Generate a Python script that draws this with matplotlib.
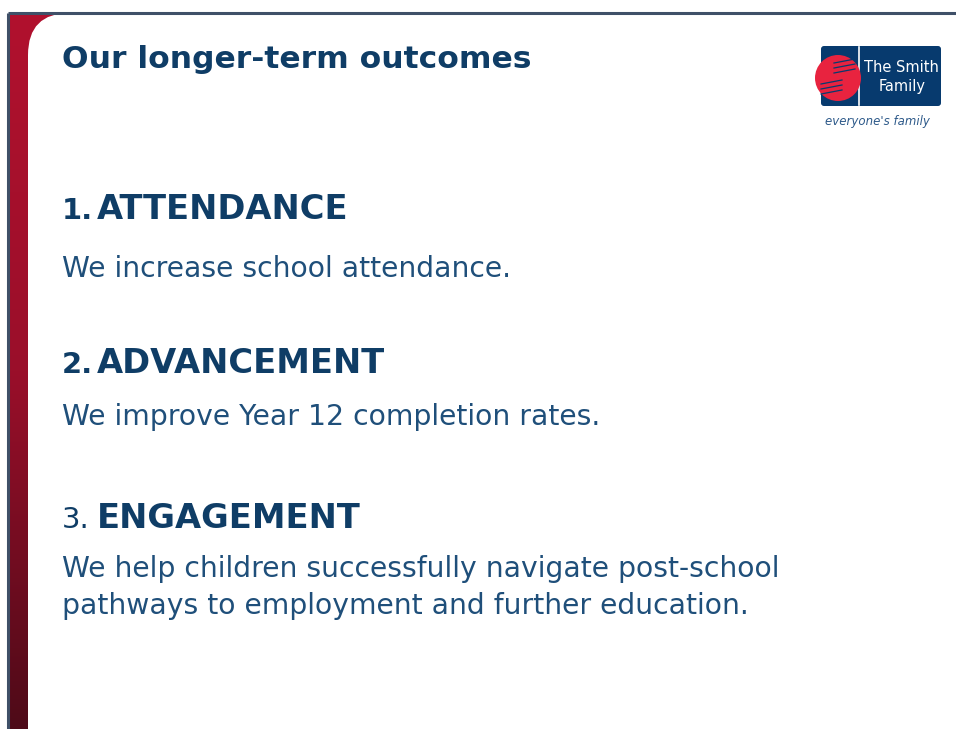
"""Slide: Our longer-term outcomes."""

import matplotlib
matplotlib.use("Agg")
import matplotlib.pyplot as plt
import numpy as np
from matplotlib.patches import FancyBboxPatch, Circle
from matplotlib.colors import LinearSegmentedColormap

W, H = 956, 729

TITLE = "Our longer-term outcomes"
NUMBERS = ["1.", "2.", "3."]
NUMBER_BOLD = [True, True, False]
HEADINGS = ["ATTENDANCE", "ADVANCEMENT", "ENGAGEMENT"]
BODIES = [
    ["We increase school attendance."],
    ["We improve Year 12 completion rates."],
    ["We help children successfully navigate post-school",
     "pathways to employment and further education."],
]
LOGO_LINES = ["The Smith", "Family"]
TAGLINE = "everyone's family"

NAVY = "#0f3d66"
BODY_BLUE = "#1f4f7a"
BORDER = "#3f5068"
LOGO_BLUE = "#073a6e"
LOGO_RED = "#e8233f"

plt.rcParams["font.family"] = ["DejaVu Sans"]

fig = plt.figure(figsize=(W / 100, H / 100), dpi=100)
ax = fig.add_axes([0, 0, 1, 1])
ax.set_xlim(0, W)
ax.set_ylim(H, 0)
ax.axis("off")


def fit_size(text, target_w, **kw):
    """Font size (pt) so that `text` spans target_w pixels."""
    t = ax.text(0, 0, text, fontsize=20, **kw)
    fig.canvas.draw()
    w = t.get_window_extent().width
    t.remove()
    return 20 * target_w / w


# red side bar with vertical gradient
cmap = LinearSegmentedColormap.from_list("bar", ["#b1112e", "#9a0f2a", "#4e0a18"])
grad = np.linspace(0, 1, 256).reshape(-1, 1)
ax.imshow(grad, cmap=cmap, extent=(9, 70, H, 13), aspect="auto", zorder=1)

# white panel with rounded top-left corner
ax.add_patch(FancyBboxPatch((28, 13), 1000, 1000,
                            boxstyle="round,pad=0,rounding_size=42",
                            fc="white", ec="none", zorder=2))

# slide border (top + left)
ax.plot([8.5, W], [12.5, 12.5], color=BORDER, lw=2.2, zorder=5, solid_capstyle="butt")
ax.plot([8.5, 8.5], [12.5, H], color=BORDER, lw=2.2, zorder=5, solid_capstyle="butt")

# sizes fitted to the slide's text widths
title_fs = fit_size(TITLE, 470, fontweight="bold")
head_fs = fit_size(HEADINGS[1], 287, fontweight="bold")
body_fs = fit_size(BODIES[2][0], 718)
num_fs = head_fs * 0.86

# title
ax.text(62, 68, TITLE, fontsize=title_fs, fontweight="bold", color=NAVY,
        va="baseline", ha="left", zorder=6)

# sections
head_base = [219, 373, 528]
body_base = [277, 425, 577]
line_gap = 37.5
for num, nbold, head, body, hy, by in zip(NUMBERS, NUMBER_BOLD, HEADINGS,
                                          BODIES, head_base, body_base):
    ax.text(62, hy, num, fontsize=num_fs,
            fontweight="bold" if nbold else "normal", color=NAVY,
            va="baseline", ha="left", zorder=6)
    ax.text(97, hy, head, fontsize=head_fs, fontweight="bold", color=NAVY,
            va="baseline", ha="left", zorder=6)
    for i, line in enumerate(body):
        ax.text(62, by + i * line_gap, line, fontsize=body_fs, color=BODY_BLUE,
                va="baseline", ha="left", zorder=6)

# logo
ax.add_patch(FancyBboxPatch((821, 46), 120, 60,
                            boxstyle="round,pad=0,rounding_size=3",
                            fc=LOGO_BLUE, ec="none", zorder=6))
ax.plot([859, 859], [47, 105], color="white", lw=1.2, zorder=7)
ax.add_patch(Circle((838, 78), 23, fc=LOGO_RED, ec="none", zorder=8))
# clasped hands (simplified finger gaps)
for dy in (-9, -4, 1):
    ax.plot([834, 855], [72 + dy, 68 + dy], color=LOGO_BLUE, lw=0.9, zorder=9)
for dy in (0, 5, 10):
    ax.plot([821, 842], [84 + dy, 80 + dy], color=LOGO_BLUE, lw=0.9, zorder=9)
ax.text(901, 67, LOGO_LINES[0], fontsize=10.5, color="white",
        ha="center", va="center", zorder=9)
ax.text(902, 86, LOGO_LINES[1], fontsize=10.5, color="white",
        ha="center", va="center", zorder=9)
ax.text(877, 121, TAGLINE, fontsize=8.5, style="italic", color="#2e5a8a",
        ha="center", va="center", zorder=9)

fig.savefig("out.png", dpi=100, facecolor="white")
plt.close(fig)
